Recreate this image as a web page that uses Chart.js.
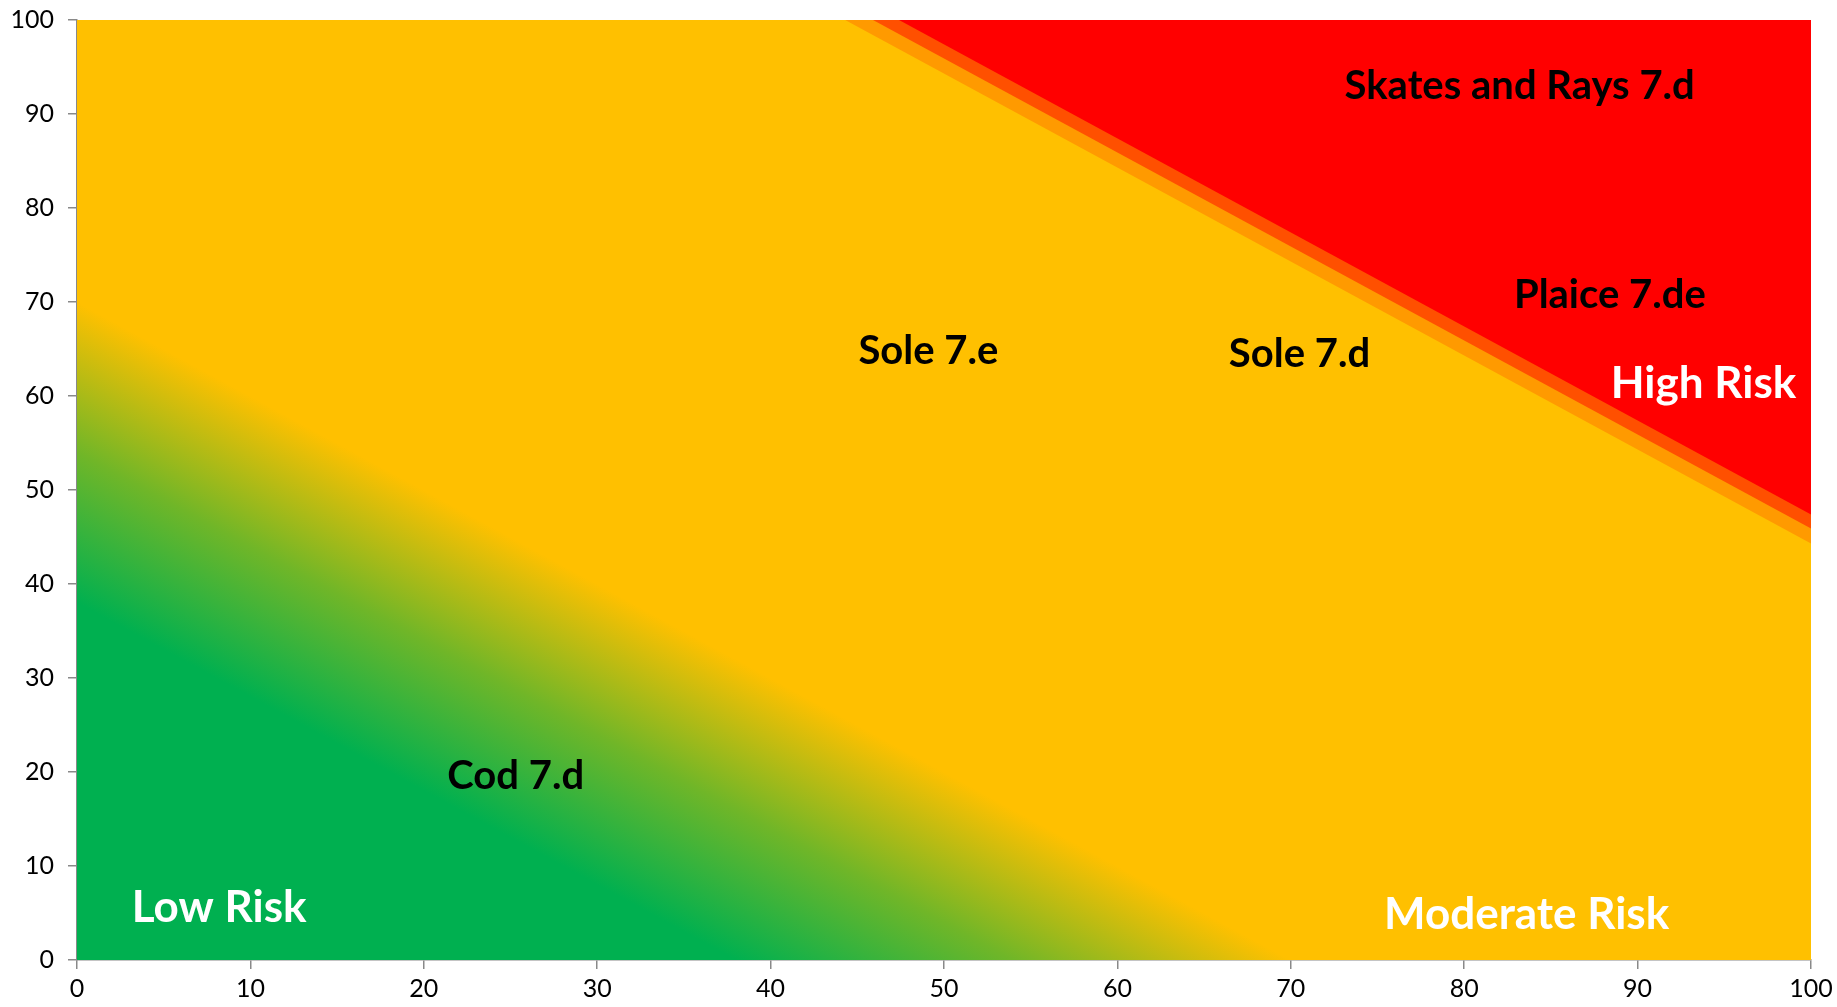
<!DOCTYPE html>
<html>
<head>
<meta charset="utf-8">
<script src="https://cdn.jsdelivr.net/npm/chart.js@4.4.1/dist/chart.umd.min.js"></script>
<style>
  html, body { margin: 0; padding: 0; background: #fff; }
  #wrap { width: 1837px; height: 1007px; }
</style>
</head>
<body>
<div id="wrap"><canvas id="chart"></canvas></div>
<script>
// risk matrix, x and y both 0..100
const axisTicks = [0, 10, 20, 30, 40, 50, 60, 70, 80, 90, 100];

// zone edges (two points each)
const greenEdgeX = [0, 70];
const greenEdgeY = [70, 0];
const orangeEdgeX = [44.3, 100];
const orangeEdgeY = [100, 44.3];
const darkOrangeEdgeX = [45.9, 100];
const darkOrangeEdgeY = [100, 45.9];
const redEdgeX = [47.4, 100];
const redEdgeY = [100, 47.4];
const baseX = [0, 100];
const baseY = [100, 100];

// stock labels
const stockNames = ["Skates and Rays 7.d", "Plaice 7.de", "Sole 7.e", "Sole 7.d", "Cod 7.d"];
const stockX = [83.2, 88.4, 49.1, 70.5, 25.3];
const stockY = [93.4, 71.2, 65.3, 64.9, 20.0];

// zone names
const zoneNames = ["Low Risk", "Moderate Risk", "High Risk"];
const zoneX = [8.2, 83.6, 93.8];
const zoneY = [6.0, 5.3, 61.8];

const GREEN = "#00B050", YELLOW = "#FFC000";

function pts(xs, ys){
  return xs.map((x, i) => ({ x: x, y: ys[i] }));
}

// gradient running across the x+y=c lines, green at c=38 to yellow at c=70
function greenGradient(context){
  const chart = context.chart;
  const area = chart.chartArea;
  if(!area) return GREEN;
  const xs = chart.scales.x, ys = chart.scales.y;
  const ox = xs.getPixelForValue(0), oy = ys.getPixelForValue(0);
  const sx = xs.getPixelForValue(1) - ox;
  const sy = oy - ys.getPixelForValue(1);
  const len = Math.sqrt(sx*sx + sy*sy);
  const nx = sy / len, ny = -sx / len;
  const d = (c) => c * sx * sy / len;
  const g = chart.ctx.createLinearGradient(ox + nx*d(38), oy + ny*d(38), ox + nx*d(70), oy + ny*d(70));
  g.addColorStop(0, GREEN);
  g.addColorStop(0.5, "#70B628");
  g.addColorStop(1, YELLOW);
  return g;
}

const labelPlugin = {
  id: "riskLabels",
  afterDatasetsDraw(chart){
    const ctx = chart.ctx;
    const xs = chart.scales.x, ys = chart.scales.y;
    const dy = 4.5; // Lato sits a bit high with "middle"
    ctx.save();
    ctx.textAlign = "center";
    ctx.textBaseline = "middle";
    ctx.font = "bold 40px Lato";
    ctx.fillStyle = "#000";
    stockNames.forEach((n, i) => {
      ctx.fillText(n, xs.getPixelForValue(stockX[i]), ys.getPixelForValue(stockY[i]) + dy);
    });
    ctx.font = "bold 44px Lato";
    ctx.fillStyle = "#fff";
    zoneNames.forEach((n, i) => {
      ctx.fillText(n, xs.getPixelForValue(zoneX[i]), ys.getPixelForValue(zoneY[i]) + dy);
    });
    ctx.restore();
  }
};

const lineDefaults = { showLine: true, borderWidth: 0, pointRadius: 0, tension: 0 };

// drop the extra room Chart.js keeps for the end tick labels
function noEdgePad(s){
  s.paddingTop = 0; s.paddingBottom = 0; s.paddingLeft = 0; s.paddingRight = 0;
}

new Chart(document.getElementById("chart"), {
  type: "scatter",
  data: {
    datasets: [
      Object.assign({ data: pts(redEdgeX, redEdgeY), fill: "end", backgroundColor: "#FF0000", borderColor: "#FF0000" }, lineDefaults),
      Object.assign({ data: pts(darkOrangeEdgeX, darkOrangeEdgeY), fill: "end", backgroundColor: "#FF5000", borderColor: "#FF5000" }, lineDefaults),
      Object.assign({ data: pts(orangeEdgeX, orangeEdgeY), fill: "end", backgroundColor: "#FF9A00", borderColor: "#FF9A00" }, lineDefaults),
      Object.assign({ data: pts(greenEdgeX, greenEdgeY), fill: "start", backgroundColor: greenGradient, borderColor: YELLOW }, lineDefaults),
      Object.assign({ data: pts(baseX, baseY), fill: "start", backgroundColor: YELLOW, borderColor: YELLOW }, lineDefaults)
    ]
  },
  options: {
    responsive: true,
    maintainAspectRatio: false,
    animation: false,
    layout: { padding: { top: 20, right: 26, left: 0, bottom: 0 } },
    plugins: { legend: { display: false }, tooltip: { enabled: false } },
    scales: {
      x: {
        type: "linear", min: 0, max: 100,
        afterBuildTicks: s => { s.ticks = axisTicks.map(v => ({ value: v })); },
        afterFit: s => { s.height = 47; noEdgePad(s); },
        border: { color: "#898989", width: 1.5 },
        grid: { drawOnChartArea: false, tickLength: 9, color: "#898989", lineWidth: 1.5 },
        ticks: { color: "#000", padding: 5, maxRotation: 0, font: { family: "Lato", size: 25 } }
      },
      y: {
        type: "linear", min: 0, max: 100,
        afterBuildTicks: s => { s.ticks = axisTicks.map(v => ({ value: v })); },
        afterFit: s => { s.width = 77; noEdgePad(s); },
        border: { color: "#898989", width: 1.5 },
        grid: { drawOnChartArea: false, tickLength: 9, color: "#898989", lineWidth: 1.5 },
        ticks: { color: "#000", padding: 14, font: { family: "Lato", size: 25 } }
      }
    }
  },
  plugins: [labelPlugin]
});
</script>
</body>
</html>
